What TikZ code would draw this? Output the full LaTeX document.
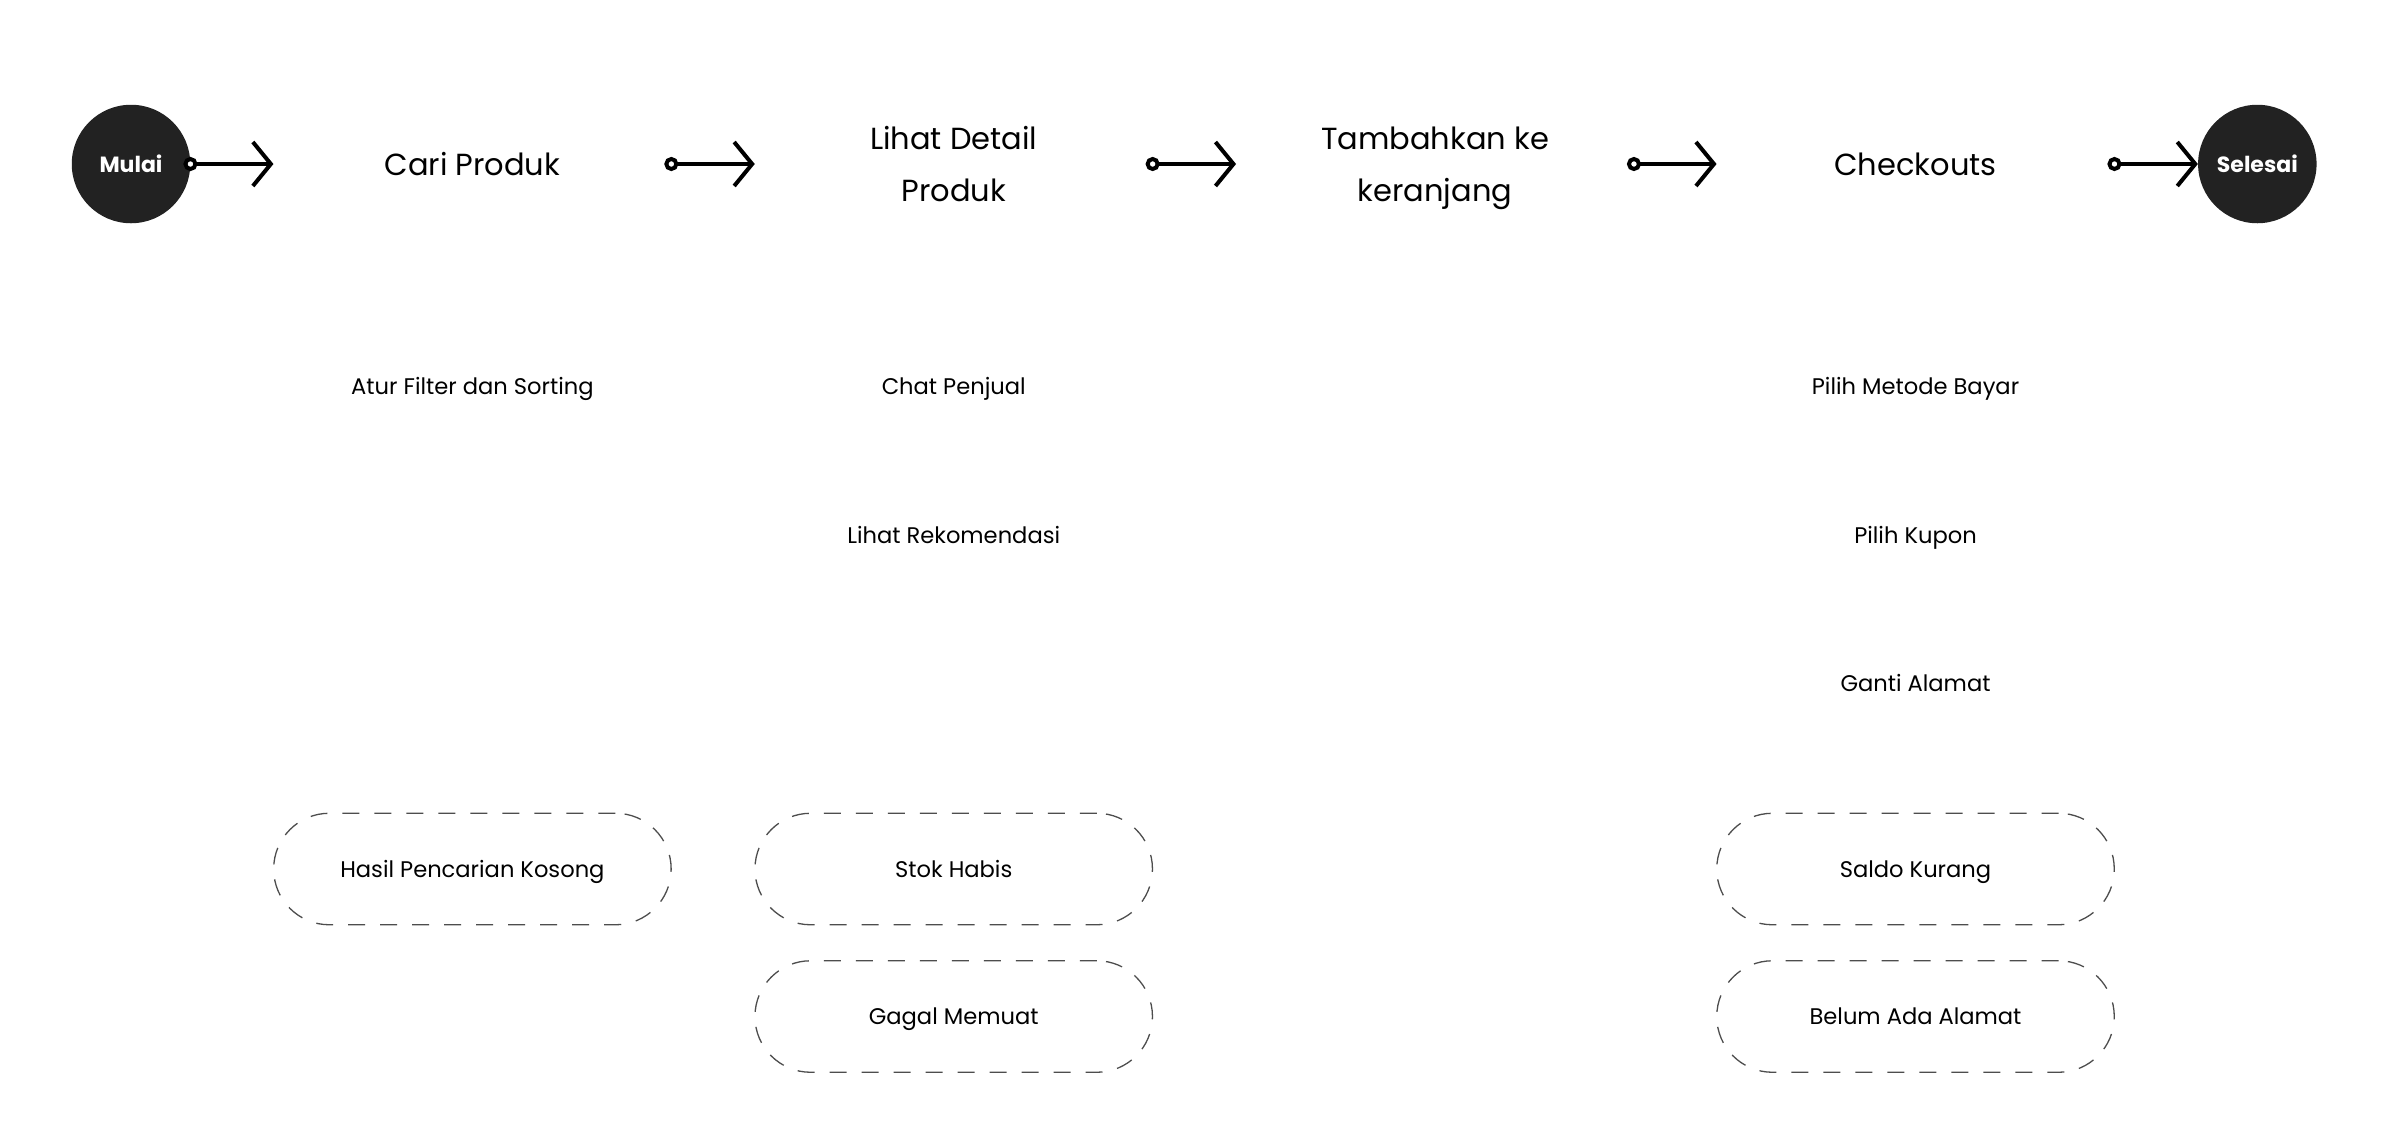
\documentclass[tikz,border=0pt]{standalone}
\usepackage{fontspec}
\setmainfont{Poppins}
\usetikzlibrary{arrows.meta}

\definecolor{darkfill}{HTML}{222222}
\definecolor{dashgray}{HTML}{4D4D4D}

\tikzset{
	endpoint/.style={shape=circle, fill=darkfill, text=white, minimum size=118.5pt, inner sep=0pt, font=\fontsize{22}{26}\selectfont\bfseries},
	stepbox/.style={minimum width=397.5pt, inner sep=0pt, align=center, font=\fontsize{30.5}{52}\selectfont},
	subitem/.style={inner sep=0pt, text depth=0pt, font=\fontsize{22.6}{27}\selectfont},
	altbox/.style={draw=dashgray, line width=1.3pt, dash pattern=on 17pt off 15pt, rounded corners=55.7pt, minimum width=397.5pt, minimum height=111.5pt, text depth=0pt, font=\fontsize{22.6}{27}\selectfont},
	flow/.style={line width=4pt, {Circle[open, fill=white, length=14pt, width=14pt]}-{Straight Barb[length=18pt, width=44pt]}, shorten <=-7pt}
}

\begin{document}
\begin{tikzpicture}[x=1pt, y=-1pt]
	\useasboundingbox (0,0) rectangle (2389,1144);

	% main flow
	\node[endpoint] (mulai) at (131,164) {Mulai};
	\node[stepbox] (cari) at (472.4,164) {Cari Produk};
	\node[stepbox] (detail) at (953.7,164) {Lihat Detail\\Produk};
	\node[stepbox, text depth=0pt] (keranjang) at (1435,164) {Tambahkan ke\\keranjang};
	\node[stepbox] (checkout) at (1915.5,164) {Checkouts};
	\node[endpoint] (selesai) at (2257.3,164) {Selesai};

	\path [flow]
	(mulai) edge (cari)
	(cari) edge (detail)
	(detail) edge (keranjang)
	(keranjang) edge (checkout)
	(checkout) edge (selesai);

	% sub steps
	\node[subitem] (filter) at (472.4,386) {Atur Filter dan Sorting};
	\node[subitem] (chat) at (953.7,386) {Chat Penjual};
	\node[subitem] (rekomendasi) at (953.7,535) {Lihat Rekomendasi};
	\node[subitem] (bayar) at (1915.5,386) {Pilih Metode Bayar};
	\node[subitem] (kupon) at (1915.5,535) {Pilih Kupon};
	\node[subitem] (alamat) at (1915.5,683) {Ganti Alamat};

	% exceptions
	\node[altbox] (kosong) at (472.4,869) {Hasil Pencarian Kosong};
	\node[altbox] (stok) at (953.7,869) {Stok Habis};
	\node[altbox] (gagal) at (953.7,1016.5) {Gagal Memuat};
	\node[altbox] (saldo) at (1915.5,869) {Saldo Kurang};
	\node[altbox] (belum) at (1915.5,1016.5) {Belum Ada Alamat};
\end{tikzpicture}
\end{document}
